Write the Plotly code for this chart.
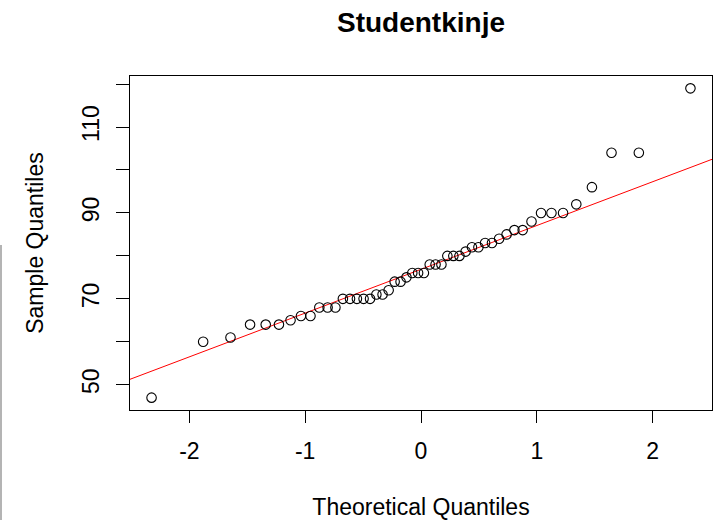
import numpy as np
import plotly.graph_objects as go
from statistics import NormalDist

# Sorted sample values
sample = [47, 60, 61, 64, 64, 64, 65, 66, 66, 68, 68, 68, 70, 70, 70, 70, 70,
          71, 71, 72, 74, 74, 75, 76, 76, 76, 78, 78, 78, 80, 80, 80, 81, 82,
          82, 83, 83, 84, 85, 86, 86, 88, 90, 90, 90, 92, 96, 104, 104, 119]

x_tick_vals = [-2, -1, 0, 1, 2]
x_tick_text = ["-2", "-1", "0", "1", "2"]
y_tick_vals = [50, 60, 70, 80, 90, 100, 110, 120]
y_tick_text = ["50", "", "70", "", "90", "", "110", ""]

title_text = "Studentkinje"
x_title = "Theoretical Quantiles"
y_title = "Sample Quantiles"

n = len(sample)
nd = NormalDist()
theo = [nd.inv_cdf((i + 0.5) / n) for i in range(n)]

# qqline through the quartiles
q1, q3 = np.quantile(sample, [0.25, 0.75])
t1, t3 = nd.inv_cdf(0.25), nd.inv_cdf(0.75)
slope = (q3 - q1) / (t3 - t1)
intercept = q1 - slope * t1
line_x = [-3.0, 3.0]
line_y = [intercept + slope * v for v in line_x]

# R-style 4% axis extension
xr = max(theo) - min(theo)
yr = max(sample) - min(sample)
x_range = [min(theo) - 0.04 * xr, max(theo) + 0.04 * xr]
y_range = [min(sample) - 0.04 * yr, max(sample) + 0.04 * yr]

FONT = "Liberation Sans, Arial, sans-serif"

fig = go.Figure()
fig.add_trace(go.Scatter(
    x=line_x, y=line_y, mode="lines",
    line=dict(color="#ff0000", width=1), showlegend=False, hoverinfo="skip"))
fig.add_trace(go.Scatter(
    x=theo, y=sample, mode="markers",
    marker=dict(symbol="circle-open", size=9.5, color="#000000",
                line=dict(color="#000000", width=1.1)),
    showlegend=False))

fig.update_layout(
    width=714, height=520,
    margin=dict(l=130, r=2, t=76, b=110),
    paper_bgcolor="white", plot_bgcolor="white",
    font=dict(family=FONT, color="#000000", size=23),
    title=dict(text="<b>" + title_text + "</b>", x=0.5, xref="paper",
               y=1 - 22 / 520, yref="container", yanchor="middle",
               xanchor="center", font=dict(size=28, family=FONT)),
    xaxis=dict(range=x_range, tickvals=x_tick_vals, ticktext=x_tick_text,
               showgrid=False, zeroline=False, showline=True, mirror=True,
               linecolor="#000000", linewidth=1, ticks="outside", ticklen=12,
               tickcolor="#000000", tickfont=dict(size=23),
               ticklabelstandoff=8,
               title=dict(text=x_title, font=dict(size=23), standoff=38)),
    yaxis=dict(range=y_range, tickvals=y_tick_vals, ticktext=y_tick_text,
               showgrid=False, zeroline=False, showline=True, mirror=True,
               linecolor="#000000", linewidth=1, ticks="outside", ticklen=13,
               tickcolor="#000000", tickangle=-90, tickfont=dict(size=23),
               ticklabelstandoff=8,
               title=dict(text=y_title, font=dict(size=23), standoff=27)),
    shapes=[dict(type="line", xref="paper", yref="paper",
                 x0=(1 - 130) / 582, x1=(1 - 130) / 582,
                 y0=(410 - 245) / 334, y1=(410 - 520) / 334,
                 line=dict(color="#b4b4b4", width=2))],
)

fig.write_html("out.html")
